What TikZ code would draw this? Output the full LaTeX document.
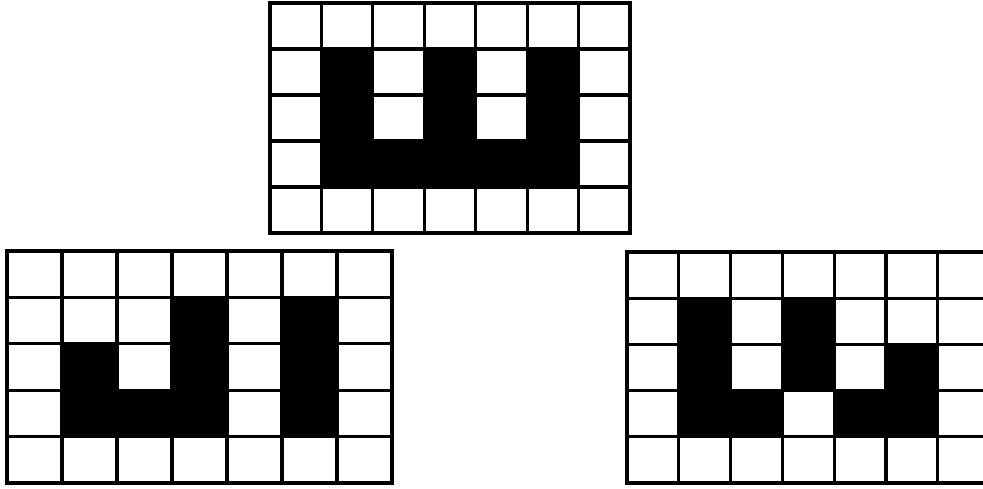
\documentclass[tikz,border=0pt]{standalone}
\usetikzlibrary{calc}

% one 7x5 pixel grid: #1,#2 top-left corner (px), #3,#4 cell size (px), #5 black cells col/row
\newcommand{\pixgrid}[5]{%
  \begin{scope}[xshift=#1*0.5pt, yshift=-#2*0.5pt, x=#3*0.5pt, y=-#4*0.5pt]
    \foreach \c/\r in {#5}
      \fill[cellon] (\c,\r) rectangle ++(1,1);
    \foreach \i in {0,...,7}
      \draw[gridline] (\i,0) -- (\i,5);
    \foreach \j in {0,...,5}
      \draw[gridline] (0,\j) -- (7,\j);
  \end{scope}}

\begin{document}
\begin{tikzpicture}[
  x=0.5pt, y=-0.5pt,
  gridline/.style={draw=black, line width=1.6pt, line cap=rect},
  cellon/.style={fill=black}
]
  \useasboundingbox (0,0) rectangle (983,488);
  \clip (0,0) rectangle (983,488);

  % top glyph
  \pixgrid{270}{3}{51.43}{46}{1/1,3/1,5/1,1/2,3/2,5/2,1/3,2/3,3/3,4/3,5/3}
  % bottom left glyph
  \pixgrid{7}{251}{55}{46.4}{3/1,5/1,1/2,3/2,5/2,1/3,2/3,3/3,5/3}
  % bottom right glyph
  \pixgrid{627}{252}{51.8}{46.2}{1/1,3/1,1/2,3/2,5/2,1/3,2/3,4/3,5/3}
\end{tikzpicture}
\end{document}
